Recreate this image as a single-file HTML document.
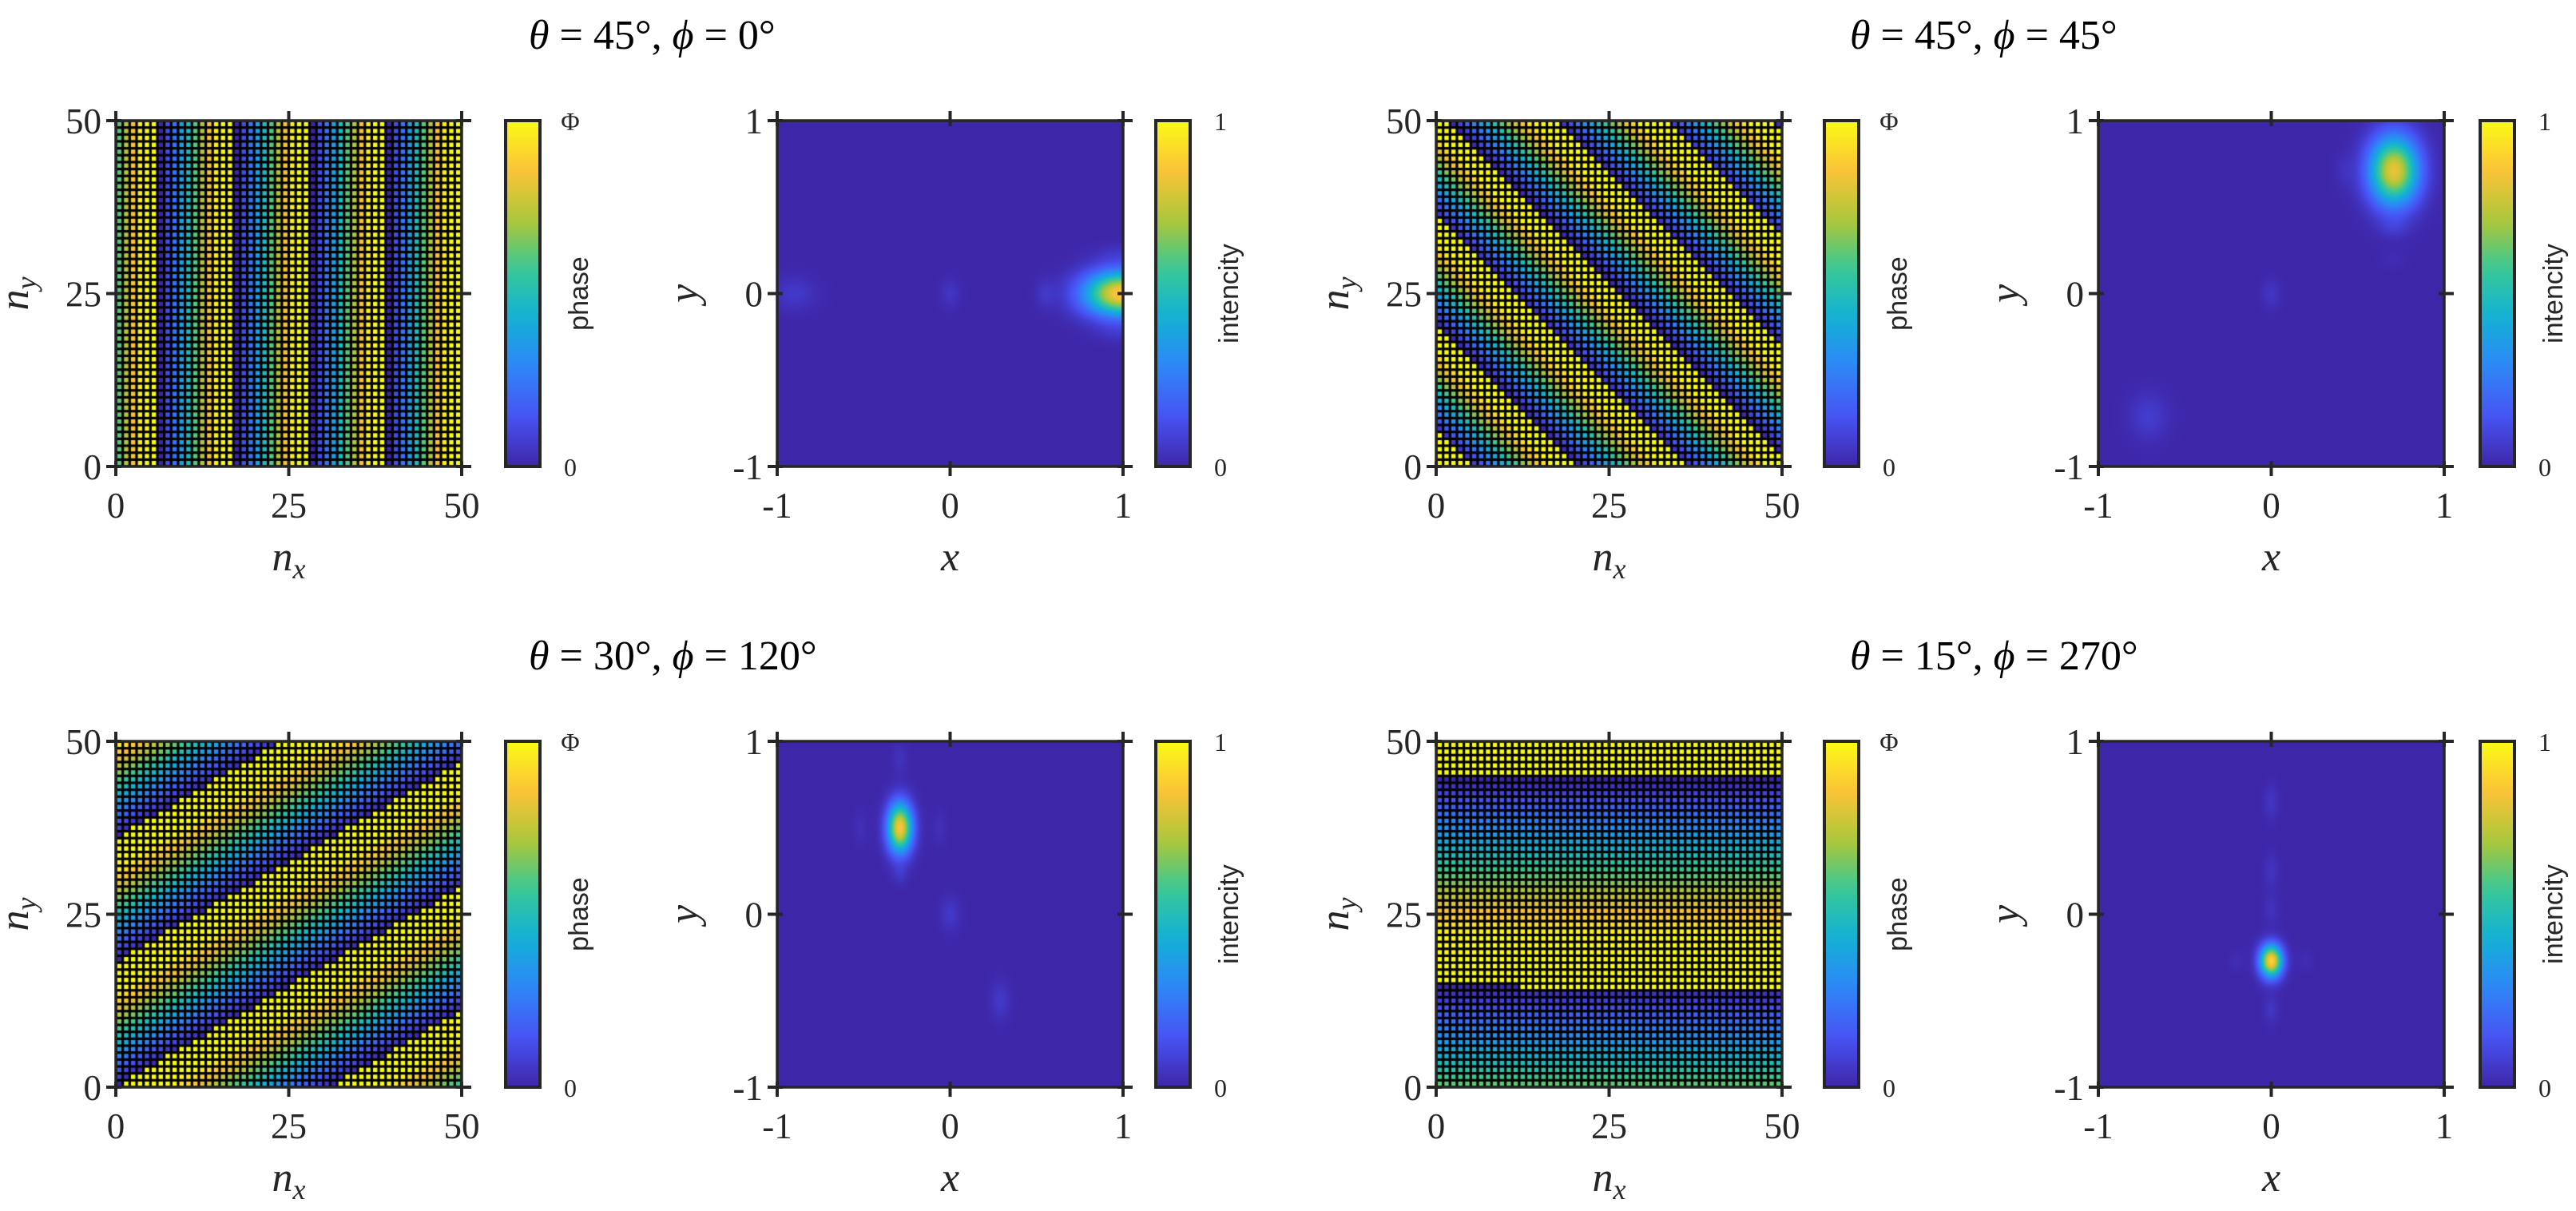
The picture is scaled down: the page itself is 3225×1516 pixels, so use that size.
<!DOCTYPE html>
<html><head><meta charset="utf-8">
<style>
html,body{margin:0;padding:0;background:#fff;}
#root{position:relative;width:3225px;height:1516px;overflow:hidden;background:#fff;}
canvas{position:absolute;}
svg{position:absolute;left:0;top:0;}
</style></head>
<body>
<div id="root">
<svg id="ov" width="3225" height="1516"></svg>
</div>
<script>
// ---------- data ----------
const panelTheta = [45, 45, 30, 15];
const panelPhi = [0, 45, 120, 270];
const phaseOffset = [-6, -3, 0, 14];           // cell index where phase wraps to 0
const gridCells = 50;
const phaseCellsPerPeriodAt45 = 11;
const phaseMaxFraction = 0.75;                  // Φ as fraction of 2π
// intensity spots per panel: x, y, amplitude, sigma-x, sigma-y
const spotX = [
  [0.99, -0.9, 0.0, 0.55, 0.98, 0.98],
  [0.71, 0.0, -0.71, 0.71, 0.42, 0.71],
  [-0.29, 0.0, 0.29, -0.29, -0.29, -0.52, -0.06],
  [0.0, 0.0, 0.0, 0.0, 0.0, -0.2, 0.2]
];
const spotY = [
  [0.0, 0.0, 0.0, 0.0, 0.23, -0.23],
  [0.71, 0.0, -0.71, 0.38, 0.71, 0.2],
  [0.5, 0.0, -0.5, 0.9, 0.23, 0.5, 0.5],
  [-0.27, 0.65, 0.25, 0.03, -0.55, -0.27, -0.27]
];
const spotAmp = [
  [0.88, 0.06, 0.05, 0.05, 0.035, 0.035],
  [0.82, 0.05, 0.07, 0.04, 0.03, 0.02],
  [0.86, 0.06, 0.06, 0.04, 0.045, 0.03, 0.03],
  [0.9, 0.05, 0.045, 0.04, 0.05, 0.025, 0.025]
];
const spotSx = [
  [0.15, 0.09, 0.04, 0.04, 0.1, 0.1],
  [0.1, 0.04, 0.08, 0.06, 0.04, 0.05],
  [0.05, 0.04, 0.04, 0.03, 0.03, 0.03, 0.03],
  [0.045, 0.03, 0.03, 0.03, 0.03, 0.03, 0.03]
];
const spotSy = [
  [0.09, 0.07, 0.06, 0.06, 0.04, 0.04],
  [0.14, 0.06, 0.1, 0.04, 0.07, 0.04],
  [0.1, 0.07, 0.08, 0.06, 0.04, 0.07, 0.07],
  [0.065, 0.07, 0.07, 0.06, 0.06, 0.04, 0.04]
];
const phaseTicks = [0, 25, 50];
const xyTicks = [-1, 0, 1];
const xyTickLabels = ['-1', '0', '1'];
const titleTheta = ['45', '45', '30', '15'];
const titlePhi = ['0', '45', '120', '270'];

// ---------- layout ----------
const colX = [{ph:145, pcb:633, in:973, icb:1447, title:662},
              {ph:1798, pcb:2284, in:2627, icb:3105, title:2316}];
const rowY = [151, 928];
const AX = 433, CBW = 43;

// parula
const parula = [[0,62,38,168],[0.14,72,82,244],[0.29,46,135,247],[0.43,18,177,214],
  [0.57,55,200,151],[0.71,171,199,57],[0.86,254,195,56],[1,249,251,21]];
function cmap(v){
  v=Math.max(0,Math.min(1,v));
  for(let i=1;i<parula.length;i++){
    if(v<=parula[i][0]){const a=parula[i-1],b=parula[i];const t=(v-a[0])/(b[0]-a[0]);
      return [a[1]+t*(b[1]-a[1]),a[2]+t*(b[2]-a[2]),a[3]+t*(b[3]-a[3])].map(Math.round);}
  }
  return [249,251,21];
}
const svgNS='http://www.w3.org/2000/svg';
const ov=document.getElementById('ov');
const root=document.getElementById('root');
function el(tag,attrs,parent,text){
  const e=document.createElementNS(svgNS,tag);
  for(const k in attrs)e.setAttribute(k,attrs[k]);
  if(text!==undefined)e.textContent=text;
  (parent||ov).appendChild(e);return e;
}
const stops=el('defs',{});
const lg=el('linearGradient',{id:'parulaGrad',x1:0,y1:1,x2:0,y2:0},stops);
for(let i=0;i<=20;i++){const c=cmap(i/20);el('stop',{offset:(i/20),'stop-color':`rgb(${c})`},lg);}

const SERIF='"Liberation Serif","DejaVu Serif",serif';
const SANS='"Liberation Sans","DejaVu Sans",sans-serif';

function axesFrame(x0,y0,g,xt,xl,yt,yl,xMin,xMax,isPhase){
  const sx=v=>x0+(v-xMin)/(xMax-xMin)*AX;
  const sy=v=>y0+AX-(v-xMin)/(xMax-xMin)*AX;
  const frame=el('rect',{x:x0,y:y0,width:AX,height:AX,fill:'none',stroke:'#262626','stroke-width':3.5},g);
  
  
  xt.forEach((v,i)=>{
    const X=sx(v);
    el('line',{x1:X,y1:y0+AX-7,x2:X,y2:y0+AX+12,stroke:'#262626','stroke-width':4},g);
    el('line',{x1:X,y1:y0-12,x2:X,y2:y0+7,stroke:'#262626','stroke-width':4},g);
    const t=el('text',{x:X,y:y0+AX+64,'font-family':SERIF,'font-size':45,'text-anchor':'middle',fill:'#262626'},g,xl[i]);
    
    
  });
  yt.forEach((v,i)=>{
    const Y=sy(v);
    el('line',{x1:x0-12,y1:Y,x2:x0+7,y2:Y,stroke:'#262626','stroke-width':4},g);
    el('line',{x1:x0+AX-7,y1:Y,x2:x0+AX+12,y2:Y,stroke:'#262626','stroke-width':4},g);
    const t=el('text',{x:x0-18,y:Y+16,'font-family':SERIF,'font-size':45,'text-anchor':'end',fill:'#262626'},g,yl[i]);
    
    
  });
  const xlT=el('text',{x:x0+AX/2,y:y0+AX+130,'font-family':SERIF,'font-size':52,'font-style':'italic','text-anchor':'middle',fill:'#262626'},g);
  
  
  if(isPhase){el('tspan',{},xlT,'n');el('tspan',{'font-size':36,dy:10},xlT,'x');}
  else xlT.textContent='x';
  const ylx=isPhase?x0-110:x0-100;
  const ylT=el('text',{x:0,y:0,transform:`translate(${ylx},${y0+AX/2}) rotate(-90)`,'font-family':SERIF,'font-size':52,'font-style':'italic','text-anchor':'middle',fill:'#262626'},g);
  
  
  if(isPhase){el('tspan',{},ylT,'n');el('tspan',{'font-size':36,dy:10},ylT,'y');}
  else ylT.textContent='y';
}
function colorbar(x0,y0,g,top,label,name){
  const r=el('rect',{x:x0,y:y0,width:CBW,height:AX,fill:'url(#parulaGrad)',stroke:'#262626','stroke-width':4},g);
  
  
  const a=el('text',{x:x0+CBW+38,y:y0+12,'font-family':SERIF,'font-size':32,'text-anchor':'middle',fill:'#262626'},g,top);
  
  
  const b=el('text',{x:x0+CBW+38,y:y0+AX+12,'font-family':SERIF,'font-size':32,'text-anchor':'middle',fill:'#262626'},g,'0');
  
  
  const l=el('text',{x:0,y:0,transform:`translate(${x0+CBW+60},${y0+AX/2}) rotate(-90)`,'font-family':SANS,'font-size':34,'text-anchor':'middle',fill:'#262626'},g,label);
  
  
}

for(let p=0;p<4;p++){
  const col=colX[p%2], y0=rowY[Math.floor(p/2)];
  const g=el('g',{});
  
  
  const tt=el('text',{x:col.title,y:y0-90,'font-family':SERIF,'font-size':52,fill:'#000'},g);
  
  
  el('tspan',{'font-style':'italic'},tt,'θ');
  el('tspan',{},tt,' = '+titleTheta[p]+'°, ');
  el('tspan',{'font-style':'italic'},tt,'ϕ');
  el('tspan',{},tt,' = '+titlePhi[p]+'°');

  const cv=document.createElement('canvas');
  cv.width=AX;cv.height=AX;cv.style.left=col.ph+'px';cv.style.top=y0+'px';
  
  
  root.insertBefore(cv,ov);
  const cx=cv.getContext('2d');
  cx.fillStyle='#000';cx.fillRect(0,0,AX,AX);
  const th=panelTheta[p]*Math.PI/180, ph=panelPhi[p]*Math.PI/180;
  const k=2*Math.PI*Math.sin(th)/(phaseCellsPerPeriodAt45*Math.sin(Math.PI/4));
  const pitch=AX/gridCells;
  for(let i=0;i<gridCells;i++)for(let j=0;j<gridCells;j++){
    let val=k*((i+phaseOffset[p]*Math.cos(ph))*Math.cos(ph)+(j+phaseOffset[p]*Math.sin(ph))*Math.sin(ph));
    val=((val%(2*Math.PI))+2*Math.PI)%(2*Math.PI);
    const c=cmap(val/(2*Math.PI*phaseMaxFraction));
    cx.fillStyle=`rgb(${c})`;
    const X=i*pitch, Y=AX-(j+1)*pitch;
    cx.fillRect(X+1.6,Y+1.6,pitch-3.2,pitch-3.2);
  }
  axesFrame(col.ph,y0,g,phaseTicks,phaseTicks.map(String),phaseTicks,phaseTicks.map(String),0,50,true);
  colorbar(col.pcb,y0,g,'Φ','phase','phase-colorbar');

  const ic=document.createElement('canvas');
  ic.width=AX;ic.height=AX;ic.style.left=col.in+'px';ic.style.top=y0+'px';
  
  
  root.insertBefore(ic,ov);
  const ix=ic.getContext('2d');
  const img=ix.createImageData(AX,AX);
  for(let py=0;py<AX;py++)for(let px=0;px<AX;px++){
    const x=-1+2*(px+0.5)/AX, y=1-2*(py+0.5)/AX;
    let v=0;
    for(let s=0;s<spotX[p].length;s++){
      const dx=(x-spotX[p][s])/spotSx[p][s], dy=(y-spotY[p][s])/spotSy[p][s];
      v+=spotAmp[p][s]*Math.exp(-0.5*(dx*dx+dy*dy));
    }
    const c=cmap(v);const o=(py*AX+px)*4;
    img.data[o]=c[0];img.data[o+1]=c[1];img.data[o+2]=c[2];img.data[o+3]=255;
  }
  ix.putImageData(img,0,0);
  axesFrame(col.in,y0,g,xyTicks,xyTickLabels,xyTicks,xyTickLabels,-1,1,false);
  colorbar(col.icb,y0,g,'1','intencity','intensity-colorbar');
}
</script>
</body></html>
